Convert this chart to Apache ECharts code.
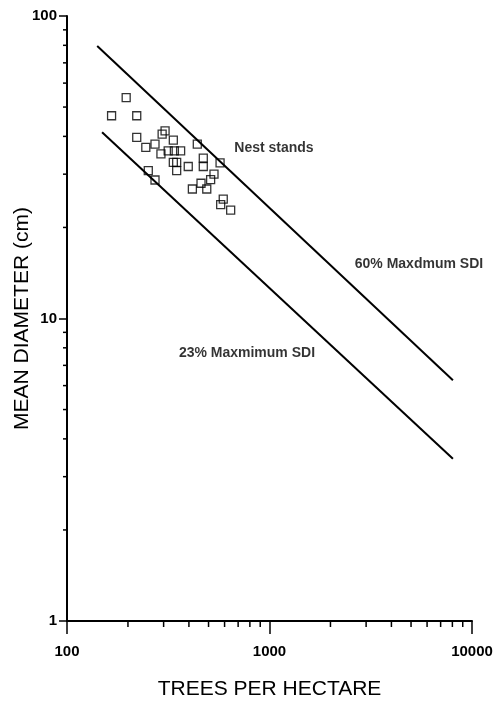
<!DOCTYPE html>
<html>
<head>
<meta charset="utf-8">
<script src="https://cdn.jsdelivr.net/npm/echarts@6/dist/echarts.min.js"></script>
<style>
  html, body { margin: 0; padding: 0; background: #fff; }
  #chart { width: 496px; height: 702px; }
</style>
</head>
<body>
<div id="chart"></div>
<script>
// nest stands: trees per hectare / mean diameter (cm)
const standTrees = [196, 166, 221, 221, 305, 295, 335, 272, 245, 291, 316, 339, 364, 440, 348, 348, 335, 397, 471, 471, 570, 532, 512, 459, 416, 490, 252, 272, 591, 574, 643]
const standDiam = [53.7, 46.8, 46.8, 39.7, 41.7, 40.7, 38.9, 37.7, 36.8, 35.0, 35.8, 35.8, 35.8, 37.7, 32.8, 30.8, 32.8, 31.8, 33.9, 31.8, 32.7, 30.0, 28.8, 28.0, 26.8, 26.8, 30.8, 28.7, 24.8, 23.8, 22.8]

// SDI reference lines (end points)
const sdi60Trees = [141, 8050]
const sdi60Diam = [79.6, 6.25]
const sdi23Trees = [149, 8050]
const sdi23Diam = [41.3, 3.44]

// minor tick values for the log axes
const xMinorTicks = [200, 300, 400, 500, 600, 700, 800, 900, 2000, 3000, 4000, 5000, 6000, 7000, 8000, 9000]
const yMinorTicks = [2, 3, 4, 5, 6, 7, 8, 9, 20, 30, 40, 50, 60, 70, 80, 90]

// text labels placed in data coordinates
const noteText = ["Nest stands", "60% Maxdmum SDI", "23% Maxmimum SDI"]
const noteTrees = [1052, 5470, 774]
const noteDiam = [36.6, 15.1, 7.69]

const font = "Liberation Sans, Arial, Helvetica, sans-serif"

const myChart = echarts.init(document.getElementById("chart"), null, { renderer: "canvas" })

function pairs(xs, ys) {
  return xs.map((x, i) => [x, ys[i]])
}

function minorTick(axis, len) {
  return (params, api) => {
    const p = api.coord([api.value(0), api.value(1)])
    const shape = axis === "x"
      ? { x1: p[0], y1: p[1], x2: p[0], y2: p[1] + len }
      : { x1: p[0] - len, y1: p[1], x2: p[0], y2: p[1] }
    return { type: "line", shape: shape, style: { stroke: "#000", lineWidth: 1.5 } }
  }
}

const blackLine = {
  type: "line",
  symbol: "none",
  silent: true,
  lineStyle: { color: "#000", width: 2 },
}

myChart.setOption({
  backgroundColor: "#fff",
  animation: false,
  grid: { left: 67, right: 24, top: 16, bottom: 81, outerBoundsMode: "none", containLabel: false },
  xAxis: {
    type: "log",
    logBase: 10,
    min: 100,
    max: 10000,
    name: "TREES PER HECTARE",
    nameLocation: "middle",
    nameGap: 58,
    nameMoveOverlap: false,
    nameTextStyle: { color: "#000", fontSize: 21, fontFamily: font },
    axisLine: { lineStyle: { color: "#000", width: 2 } },
    axisTick: { inside: false, length: 13, lineStyle: { color: "#000", width: 1.5 } },
    axisLabel: {
      color: "#000", fontSize: 15, fontWeight: "bold", fontFamily: font, margin: 23,
      formatter: (v) => String(Math.round(v)),
    },
    splitLine: { show: false },
  },
  yAxis: {
    type: "log",
    logBase: 10,
    min: 1,
    max: 100,
    name: "MEAN DIAMETER (cm)",
    nameLocation: "middle",
    nameGap: 34,
    nameRotate: 90,
    nameMoveOverlap: false,
    nameTextStyle: { color: "#000", fontSize: 21, fontFamily: font },
    axisLine: { lineStyle: { color: "#000", width: 2 } },
    axisTick: { inside: false, length: 8, lineStyle: { color: "#000", width: 1.5 } },
    axisLabel: {
      color: "#000", fontSize: 15, fontWeight: "bold", fontFamily: font, margin: 10,
      formatter: (v) => String(Math.round(v)),
    },
    splitLine: { show: false },
  },
  series: [
    Object.assign({ name: "60% SDI", data: pairs(sdi60Trees, sdi60Diam) }, blackLine),
    Object.assign({ name: "23% SDI", data: pairs(sdi23Trees, sdi23Diam) }, blackLine),
    {
      name: "Nest stands",
      type: "scatter",
      symbol: "rect",
      symbolSize: 8,
      itemStyle: { color: "rgba(0,0,0,0)", borderColor: "#000", borderWidth: 1.3 },
      data: pairs(standTrees, standDiam),
    },
    {
      type: "custom",
      silent: true,
      clip: false,
      renderItem: minorTick("x", 6),
      data: xMinorTicks.map((v) => [v, 1]),
    },
    {
      type: "custom",
      silent: true,
      clip: false,
      renderItem: minorTick("y", 4),
      data: yMinorTicks.map((v) => [100, v]),
    },
    {
      type: "scatter",
      silent: true,
      symbolSize: 0,
      label: {
        show: true,
        position: "inside",
        color: "#000",
        textBorderWidth: 0,
        fontSize: 14,
        fontWeight: "bold",
        fontFamily: font,
        formatter: (p) => noteText[p.dataIndex],
      },
      data: pairs(noteTrees, noteDiam),
    },
  ],
})

window.addEventListener("resize", () => {
  myChart.resize()
})
</script>
</body>
</html>
